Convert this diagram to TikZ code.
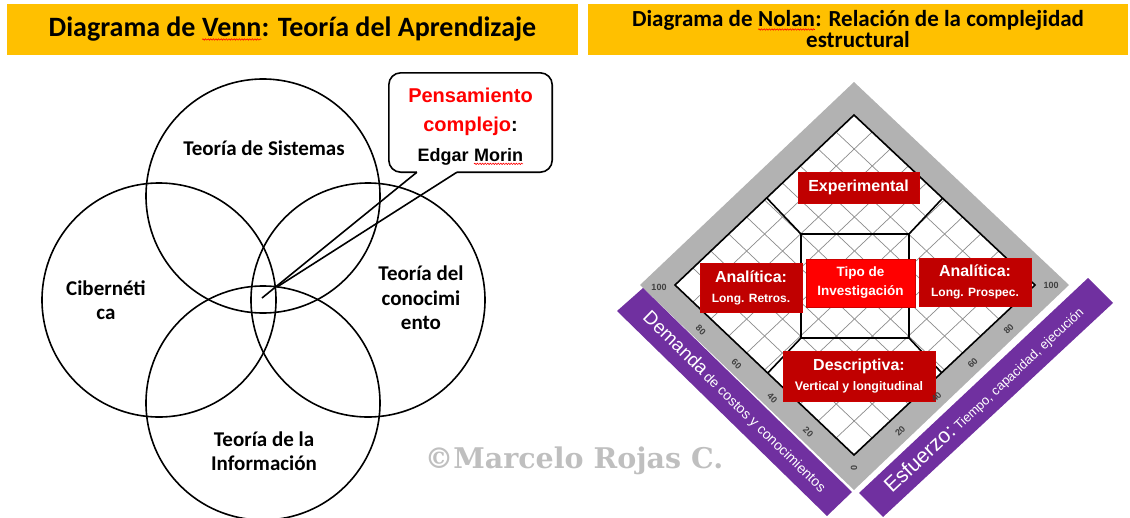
\documentclass[tikz,border=0pt]{standalone}
\usepackage{fontspec}
\setmainfont{Carlito}
\newfontfamily\arialfont{Liberation Sans}
\newfontfamily\markfont{DejaVu Serif}
\usetikzlibrary{calc,positioning,decorations.pathmorphing}
\definecolor{titleyellow}{RGB}{255,192,0}
\definecolor{boxred}{RGB}{192,0,0}
\definecolor{brightred}{RGB}{255,0,0}
\definecolor{bandpurple}{RGB}{112,48,160}
\definecolor{bandgray}{RGB}{178,178,178}
\definecolor{markgray}{RGB}{191,191,191}
\newcommand{\pxsize}[2]{\fontsize{#1}{#2}\selectfont}
\newcommand{\spellwave}[1]{\tikz[baseline=(sw.base),x=1pt,y=1pt]{\node[inner sep=0pt,outer sep=0pt,fill=none,draw=none,minimum size=0pt,text=black,shape=rectangle] (sw) {#1};
  \draw[red,line width=0.6pt,decorate,decoration={snake,amplitude=0.7pt,segment length=2.6pt}] ([yshift=-2.5pt]sw.base west) -- ([yshift=-2.5pt]sw.base east);}}
\tikzstyle{titlebar}=[fill=titleyellow,inner sep=0pt,align=center]
\tikzstyle{venncircle}=[draw,circle,line width=1.6pt,minimum size=234pt,inner sep=0pt]
\tikzstyle{vennlabel}=[font=\bfseries\pxsize{21}{24.5},align=center,inner sep=0pt]
\tikzstyle{callout}=[line width=1.6pt]
\tikzstyle{gridline}=[draw=black!45,line width=0.7pt]
\tikzstyle{frame}=[draw=black,line width=1.6pt]
\tikzstyle{nolanbox}=[fill=boxred,draw=red!80!black,line width=0.6pt,text=white,font=\arialfont\bfseries\pxsize{16}{20},align=center,inner sep=0pt]
\tikzstyle{ticklabel}=[font=\arialfont\bfseries\pxsize{9}{9},text=black!75,inner sep=0pt]
\tikzstyle{bandtext}=[text=white,font=\arialfont,inner sep=0pt]

\begin{document}
\begin{tikzpicture}[x=1pt,y=-1pt]
\useasboundingbox (0,0) rectangle (1130,517);

\node[titlebar,minimum width=571pt,minimum height=51pt,font=\bfseries\pxsize{28}{30}] (venntitle) at (292.5,29.5) {Diagrama de \spellwave{Venn}: Teoría del Aprendizaje};
\node[titlebar,minimum width=540pt,minimum height=51pt,font=\bfseries\pxsize{23}{21}] (nolantitle) at (858,29.5) {Diagrama de \spellwave{Nolan}: Relación de la complejidad\\estructural};

\node[venncircle] (sis) at (263,196) {};
\node[venncircle] (cib) at (159,300) {};
\node[venncircle] (con) at (368,300) {};
\node[venncircle] (inf) at (263,403) {};
\node[vennlabel] (sislbl) at (264,148) {Teoría de Sistemas};
\node[vennlabel] (ciblbl) at (106,300) {Cibernéti\\ca};
\node[vennlabel] (conlbl) at (421,298) {Teoría del\\conocimi\\ento};
\node[vennlabel] (inflbl) at (264,451) {Teoría de la\\Información};

\node[minimum width=163pt,minimum height=99pt,inner sep=0pt] (morin) at (470.5,122.5) {};
\node[font=\arialfont\bfseries\pxsize{20}{29.5},align=center,inner sep=0pt] (morintxt) at (470.5,126.5) {\textcolor{red}{Pensamiento}\\\textcolor{red}{complejo}:\\{\pxsize{18}{29.5}Edgar \spellwave{Morin}}};
\coordinate (tip) at (262,298);
\coordinate (tipb) at (277,287);
\coordinate (gapl) at ($(morin.south west)!0.172!(morin.south east)$);
\coordinate (gapr) at ($(morin.south west)!0.417!(morin.south east)$);
\draw[callout,rounded corners=12pt] (gapl) -| (morin.north west) -| (morin.south east) -- (gapr);
\draw[callout] (gapl) -- (tip);
\draw[callout] (gapr) -- (tipb);

\fill[bandgray] (854,82) -- (1069,285) -- (854,490) -- (640,285) -- cycle;
\fill[bandpurple] (643,288) -- (852,492) -- (827,516) -- (617,311) -- cycle;
\fill[bandpurple] (859,493) -- (1088,278) -- (1113,303) -- (883,517) -- cycle;
\coordinate (nb) at (854,455);
\coordinate (nr) at (1035,285);
\coordinate (nt) at (854,115);
\coordinate (nl) at (675,285);
\fill[white] (nb) -- (nr) -- (nt) -- (nl) -- cycle;
\foreach \i in {1,...,9} {
  \draw[gridline] ($(nb)!\i/10!(nl)$) -- ($(nr)!\i/10!(nt)$);
  \draw[gridline] ($(nb)!\i/10!(nr)$) -- ($(nl)!\i/10!(nt)$);
}
\draw[frame] (nb) -- (nr) -- (nt) -- (nl) -- cycle;
\coordinate (q1) at (801,234);
\coordinate (q2) at (909,234);
\coordinate (q3) at (909,338);
\coordinate (q4) at (801,338);
\draw[frame] (q1) -- (q2) -- (q3) -- (q4) -- cycle;
\draw[frame] (q1) -- ($(nl)!(q1)!(nt)$);
\draw[frame] (q2) -- ($(nt)!(q2)!(nr)$);
\draw[frame] (q3) -- ($(nr)!(q3)!(nb)$);
\draw[frame] (q4) -- ($(nb)!(q4)!(nl)$);

\node[nolanbox,minimum width=121pt,minimum height=31pt] (expbox) at (858.5,187.5) {Experimental};
\node[nolanbox,minimum width=102pt,minimum height=49pt] (retbox) at (751,287.5) {Analítica:\\{\pxsize{12}{20}Long. Retros.}};
\node[nolanbox,fill=brightred,minimum width=109pt,minimum height=48pt,font=\arialfont\bfseries\pxsize{13.5}{19}] (tipobox) at (860.5,283) {Tipo de\\Investigación};
\node[nolanbox,minimum width=112pt,minimum height=48pt] (probox) at (975,282) {Analítica:\\{\pxsize{12}{20}Long. Prospec.}};
\node[nolanbox,minimum width=152pt,minimum height=50pt] (desbox) at (859,376) {Descriptiva:\\{\pxsize{12.4}{20}Vertical y longitudinal}};

\foreach \v in {20,40,60,80} {
  \node[ticklabel,rotate=-45] (tl\v) at ($(nb)!\v/100!(nl)+(-10,11)$) {\v};
  \node[ticklabel,rotate=45] (tr\v) at ($(nb)!\v/100!(nr)+(10,10)$) {\v};
}
\node[ticklabel,rotate=90] (t0) at ($(nb)+(0,13)$) {0};
\node[ticklabel] (tl100) at ($(nl)+(-16,2)$) {100};
\node[ticklabel] (tr100) at ($(nr)+(16,0)$) {100};

\node[bandtext,rotate=-44.3] (demtxt) at (735,402) {{\pxsize{19}{19}Demanda} {\pxsize{14}{14}de costos y conocimientos}};
\node[bandtext,rotate=43.2] (esftxt) at (984,399) {{\pxsize{21}{21}Esfuerzo:} {\pxsize{13}{13}Tiempo, capacidad, ejecución}};

\node[text=markgray,font=\markfont\bfseries\pxsize{28.5}{28.5}] (mark) at (574,461) {©Marcelo Rojas C.};
\end{tikzpicture}
\end{document}
